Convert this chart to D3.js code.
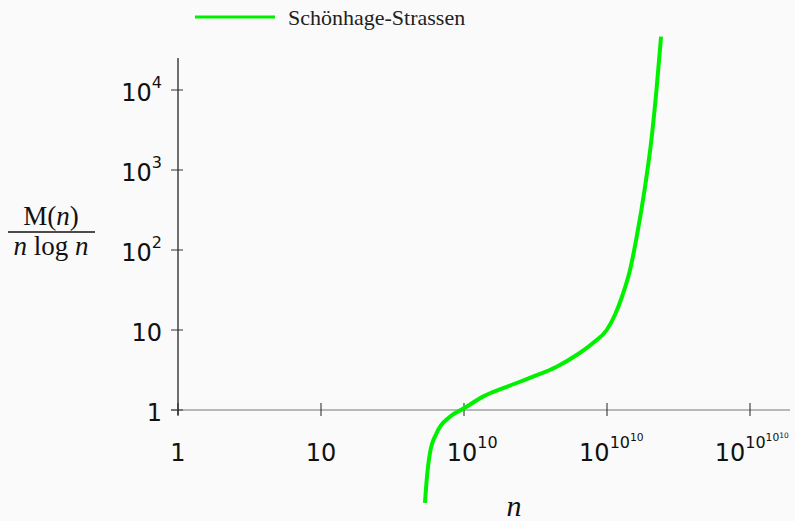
<!DOCTYPE html>
<html>
<head>
<meta charset="utf-8">
<script src="https://cdn.jsdelivr.net/npm/d3@7"></script>
<style>
  html, body { margin: 0; padding: 0; background: #fafafa; }
  svg { display: block; }
</style>
</head>
<body>
<svg id="chart" width="795" height="521"></svg>
<script>
// x positions are iterated logarithms of n: 1, 10, 10^10, 10^10^10, 10^10^10^10
const xTickLevels = [0, 1, 2, 3, 4];
const xTickTowers = [["1"], ["10"], ["10", "10"], ["10", "10", "10"], ["10", "10", "10", "10"]];

// y axis: M(n) / (n log n), logarithmic
const yTickValues = [1, 10, 100, 1000, 10000];
const yTickTowers = [["1"], ["10"], ["10", "2"], ["10", "3"], ["10", "4"]];

// Schönhage–Strassen curve: iterated-log level of n and the cost ratio
const ssLevel = [1.727, 1.739, 1.762, 1.809, 1.902, 2.0, 2.133, 2.299, 2.483, 2.648,
                 2.788, 2.902, 2.998, 3.056, 3.108, 3.161, 3.208, 3.266, 3.313, 3.348, 3.378];
const ssRatio = [0.069, 0.133, 0.29, 0.516, 0.824, 1.05, 1.47, 1.95, 2.61, 3.48,
                 4.87, 6.88, 10, 15.5, 27, 56.2, 147, 618, 2608, 10980, 46400];

const seriesName = "Schönhage-Strassen";
const lineColor = "#00f000";

const svg = d3.select("#chart");
const sans = "DejaVu Sans, sans-serif";
const serif = "Liberation Serif, Times New Roman, serif";

const x = d3.scaleLinear().domain([0, 4]).range([178, 750]);
const y = d3.scaleLog().domain([1, 1e4]).range([410, 90]);

// superscript tower label: each level smaller and raised
const supSizes = [24, 16, 10.7, 7.5];
const supRaise = [12.4, 7.3, 3.4];
function tower(text, parts) {
  parts.forEach((p, i) => {
    text.append("tspan")
      .attr("font-size", supSizes[i])
      .attr("dy", i === 0 ? 0 : -supRaise[i - 1])
      .text(p);
  });
}

// axes lines
svg.append("line")
  .attr("x1", 171).attr("x2", 790)
  .attr("y1", y(1)).attr("y2", y(1))
  .attr("stroke", "#777").attr("stroke-width", 1.2);
svg.append("line")
  .attr("x1", x(0)).attr("x2", x(0))
  .attr("y1", 58).attr("y2", 415)
  .attr("stroke", "#111").attr("stroke-width", 1.2);

// x ticks
const xShift = [null, null, -17.3, -27.9, -35.3];
xTickLevels.forEach((lv, i) => {
  const px = x(lv);
  svg.append("line")
    .attr("x1", px).attr("x2", px)
    .attr("y1", y(1) - 7).attr("y2", y(1) + 6)
    .attr("stroke", "#222").attr("stroke-width", 1);
  const t = svg.append("text")
    .attr("y", 460.7)
    .attr("font-family", sans)
    .attr("fill", "#111");
  if (xTickTowers[i].length === 1) {
    t.attr("x", px).attr("text-anchor", "middle");
  } else {
    t.attr("x", px + xShift[i]).attr("text-anchor", "start");
  }
  tower(t, xTickTowers[i]);
});

// y ticks
yTickValues.forEach((v, i) => {
  const py = y(v);
  svg.append("line")
    .attr("x1", x(0) - 7).attr("x2", x(0) + 5)
    .attr("y1", py).attr("y2", py)
    .attr("stroke", "#333").attr("stroke-width", 1);
  const t = svg.append("text")
    .attr("x", 162)
    .attr("y", py + 10.5)
    .attr("text-anchor", "end")
    .attr("font-family", sans)
    .attr("fill", "#111");
  tower(t, yTickTowers[i]);
});

// curve
const pts = ssLevel.map((s, i) => ({ s, r: ssRatio[i] }));
const line = d3.line()
  .x(d => x(d.s))
  .y(d => y(d.r))
  .curve(d3.curveMonotoneX);
svg.append("path")
  .datum(pts)
  .attr("d", line)
  .attr("fill", "none")
  .attr("stroke", lineColor)
  .attr("stroke-width", 4);

// legend
svg.append("line")
  .attr("x1", 195).attr("x2", 275)
  .attr("y1", 17).attr("y2", 17)
  .attr("stroke", lineColor).attr("stroke-width", 3);
svg.append("text")
  .attr("x", 288).attr("y", 25)
  .attr("font-family", serif)
  .attr("font-size", 22)
  .attr("fill", "#222")
  .text(seriesName);

// axis titles
svg.append("text")
  .attr("x", 514).attr("y", 516)
  .attr("text-anchor", "middle")
  .attr("font-family", serif)
  .attr("font-style", "italic")
  .attr("font-size", 30)
  .attr("fill", "#111")
  .text("n");

const num = svg.append("text")
  .attr("x", 51).attr("y", 225)
  .attr("text-anchor", "middle")
  .attr("font-family", serif)
  .attr("font-size", 27)
  .attr("fill", "#111");
num.append("tspan").text("M(");
num.append("tspan").attr("font-style", "italic").text("n");
num.append("tspan").text(")");

svg.append("line")
  .attr("x1", 8).attr("x2", 95)
  .attr("y1", 232).attr("y2", 232)
  .attr("stroke", "#111").attr("stroke-width", 1.5);

const den = svg.append("text")
  .attr("x", 51).attr("y", 255)
  .attr("text-anchor", "middle")
  .attr("font-family", serif)
  .attr("font-size", 27)
  .attr("fill", "#111");
den.append("tspan").attr("font-style", "italic").text("n");
den.append("tspan").text(" log ");
den.append("tspan").attr("font-style", "italic").text("n");
</script>
</body>
</html>
